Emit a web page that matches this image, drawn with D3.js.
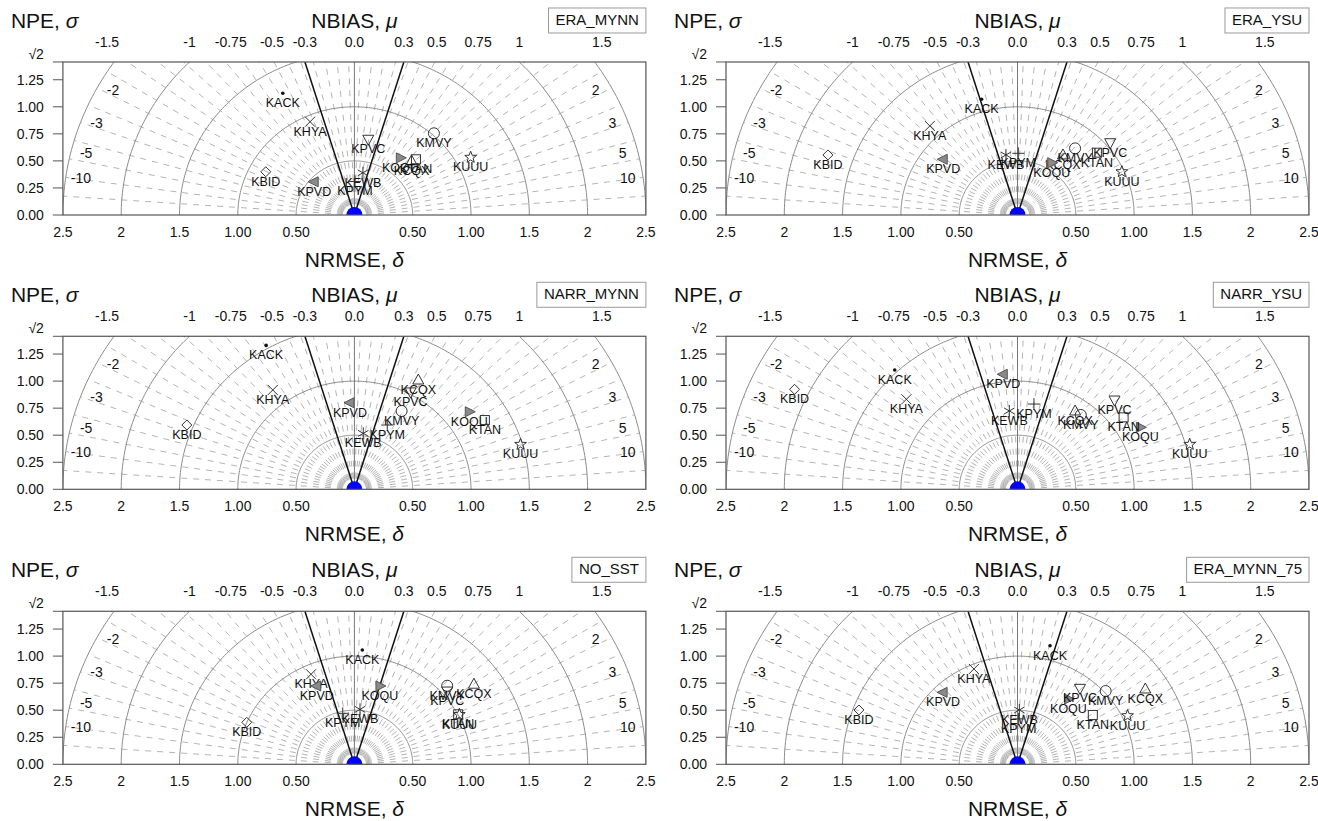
<!DOCTYPE html>
<html><head><meta charset="utf-8">
<script src="https://cdn.jsdelivr.net/npm/d3@7"></script>
<style>body{margin:0;background:#fff} text{font-family:"Liberation Sans",Arial,Helvetica,sans-serif}</style>
</head><body><svg id="c" width="1318" height="821"></svg>
<script>
// ---------- data ----------
const stations = ["KACK","KBID","KCQX","KEWB","KHYA","KMVY","KOQU","KPVC","KPVD","KPYM","KTAN","KUUU"];
const stationShapes = ["dot","diamond","triUp","asterisk","cross","circle","triRight","triDown","triLeft","plus","square","star"];
const panelNames = ["ERA_MYNN","ERA_YSU","NARR_MYNN","NARR_YSU","NO_SST","ERA_MYNN_75"];
// horizontal (signed, NRMSE units) and vertical (NPE) coordinates, station order as above
const ERA_MYNN_x    = [-0.614,-0.76, 0.49, 0.073,-0.38, 0.682, 0.394, 0.119,-0.345, 0.005, 0.528, 0.997];
const ERA_MYNN_y    = [ 1.125, 0.40, 0.50, 0.39,  0.862,0.755, 0.528, 0.70,  0.307, 0.31,  0.515, 0.533];
const ERA_YSU_x     = [-0.308,-1.626,0.39,-0.099,-0.752,0.494, 0.294, 0.795,-0.637, 0.007, 0.681, 0.895];
const ERA_YSU_y     = [ 1.07,  0.555,0.555,0.555, 0.823,0.616, 0.483, 0.668, 0.515, 0.57,  0.576, 0.40];
const NARR_MYNN_x   = [-0.757,-1.437,0.548,0.076,-0.70, 0.405, 0.985, 0.482,-0.038, 0.282, 1.119, 1.425];
const NARR_MYNN_y   = [ 1.33,  0.594,1.01, 0.517, 0.918,0.724, 0.717, 0.90,  0.80,  0.594, 0.64,  0.415];
const NARR_YSU_x    = [-1.053,-1.912,0.494,-0.07,-0.953,0.543, 1.054, 0.832,-0.122, 0.141, 0.91,  1.477];
const NARR_YSU_y    = [ 1.103, 0.924,0.724,0.724, 0.832,0.687, 0.573, 0.825, 1.063, 0.788, 0.665, 0.415];
const NO_SST_x      = [ 0.068,-0.923,1.025,0.048,-0.372,0.796, 0.219, 0.796,-0.323,-0.10,  0.89,  0.90];
const NO_SST_y      = [ 1.056, 0.388,0.74, 0.508, 0.832,0.726, 0.724, 0.677, 0.724, 0.471, 0.462, 0.46];
const ERA_MYNN_75_x = [ 0.279,-1.36, 1.096,0.016,-0.374,0.756, 0.437, 0.536,-0.638, 0.01,  0.646, 0.944];
const ERA_MYNN_75_y = [ 1.096, 0.502,0.696,0.502, 0.881,0.677, 0.603, 0.702, 0.665, 0.42,  0.456, 0.449];

const nbiasTicks  = [-1.5,-1,-0.75,-0.5,-0.3,0,0.3,0.5,0.75,1,1.5];
const nbiasLabels = ["-1.5","-1","-0.75","-0.5","-0.3","0.0","0.3","0.5","0.75","1","1.5"];
const npeTicks    = [0,0.25,0.5,0.75,1,1.25,Math.SQRT2];
const npeLabels   = ["0.00","0.25","0.50","0.75","1.00","1.25","\u221A2"];
const nrmseTicks  = [0.5,1,1.5,2,2.5];
const nrmseLabels = ["0.50","1.00","1.5","2","2.5"];
const ratioLabels = [2,3,5,10];
const arcRadii    = [0.5,1,1.5,2,2.5];
const biasLines   = [-0.3,0.3];
const rayAngles   = d3.range(4,180,4);

// ---------- drawing ----------
const svg = d3.select("#c");
const defs = svg.append("defs");
const SX = 116.6, SY = 108.2, R = 2.5, TOP = Math.SQRT2;
const colX = [354.4, 1017.5], rowBase = [215, 489.3, 764.3];
const panels = [
  {name:panelNames[0], x:ERA_MYNN_x, y:ERA_MYNN_y},
  {name:panelNames[1], x:ERA_YSU_x, y:ERA_YSU_y},
  {name:panelNames[2], x:NARR_MYNN_x, y:NARR_MYNN_y},
  {name:panelNames[3], x:NARR_YSU_x, y:NARR_YSU_y},
  {name:panelNames[4], x:NO_SST_x, y:NO_SST_y},
  {name:panelNames[5], x:ERA_MYNN_75_x, y:ERA_MYNN_75_y}
];

function drawMarker(g, shape, px, py){
  const st = "#333", sw = 1;
  switch(shape){
    case "dot": g.append("circle").attr("cx",px).attr("cy",py).attr("r",1.8).attr("fill","#111"); break;
    case "diamond": g.append("path").attr("d",`M${px},${py-5}L${px+5},${py}L${px},${py+5}L${px-5},${py}Z`).attr("fill","none").attr("stroke",st).attr("stroke-width",sw); break;
    case "triUp": g.append("path").attr("d",`M${px},${py-6}L${px+5.5},${py+4}L${px-5.5},${py+4}Z`).attr("fill","none").attr("stroke",st).attr("stroke-width",sw); break;
    case "triDown": g.append("path").attr("d",`M${px},${py+6}L${px+5.5},${py-4}L${px-5.5},${py-4}Z`).attr("fill","none").attr("stroke",st).attr("stroke-width",sw); break;
    case "triRight": g.append("path").attr("d",`M${px+6},${py}L${px-4},${py-5}L${px-4},${py+5}Z`).attr("fill","#8a8a8a").attr("stroke","#555").attr("stroke-width",sw); break;
    case "triLeft": g.append("path").attr("d",`M${px-6},${py}L${px+4},${py-5}L${px+4},${py+5}Z`).attr("fill","#8a8a8a").attr("stroke","#555").attr("stroke-width",sw); break;
    case "circle": g.append("circle").attr("cx",px).attr("cy",py).attr("r",5.5).attr("fill","none").attr("stroke",st).attr("stroke-width",sw); break;
    case "square": g.append("rect").attr("x",px-4.5).attr("y",py-4.5).attr("width",9).attr("height",9).attr("fill","none").attr("stroke",st).attr("stroke-width",sw); break;
    case "cross": g.append("path").attr("d",`M${px-5},${py-5}L${px+5},${py+5}M${px-5},${py+5}L${px+5},${py-5}`).attr("stroke",st).attr("stroke-width",sw); break;
    case "plus": g.append("path").attr("d",`M${px-6},${py}L${px+6},${py}M${px},${py-6}L${px},${py+6}`).attr("stroke",st).attr("stroke-width",sw); break;
    case "asterisk": {
      let d = "";
      [90,30,150].forEach(a=>{const t=a*Math.PI/180, dx=6*Math.cos(t), dy=6*Math.sin(t); d+=`M${px-dx},${py+dy}L${px+dx},${py-dy}`;});
      g.append("path").attr("d",d).attr("stroke",st).attr("stroke-width",sw); break;
    }
    case "star": {
      const pts=[]; for(let k=0;k<10;k++){const rr=k%2?2.6:6.2, t=-Math.PI/2+k*Math.PI/5; pts.push([px+rr*Math.cos(t), py+rr*Math.sin(t)]);}
      g.append("path").attr("d","M"+pts.map(p=>p.join(",")).join("L")+"Z").attr("fill","none").attr("stroke",st).attr("stroke-width",sw); break;
    }
  }
}

panels.forEach((p,i)=>{
  const cx = colX[i%2], base = rowBase[Math.floor(i/2)];
  const x = d3.scaleLinear().domain([-R,R]).range([cx-R*SX, cx+R*SX]);
  const y = d3.scaleLinear().domain([0,TOP]).range([base, base-TOP*SY]);
  const g = svg.append("g");

  defs.append("clipPath").attr("id","rc"+i).append("rect")
    .attr("x",x(-R)).attr("y",y(TOP)).attr("width",x(R)-x(-R)).attr("height",y(0)-y(TOP));
  defs.append("clipPath").attr("id","el"+i).append("ellipse")
    .attr("cx",x(0)).attr("cy",y(0)).attr("rx",x(R)-x(0)).attr("ry",y(0)-y(R));

  const gr = g.append("g").attr("clip-path",`url(#rc${i})`);
  const ge = gr.append("g").attr("clip-path",`url(#el${i})`);

  // dashed rays
  rayAngles.forEach(a=>{
    const t = a*Math.PI/180, r0 = 0.1;
    ge.append("line").attr("x1",x(r0*Math.cos(t))).attr("y1",y(r0*Math.sin(t)))
      .attr("x2",x(R*1.05*Math.cos(t))).attr("y2",y(R*1.05*Math.sin(t)))
      .attr("stroke","#b4b4b4").attr("stroke-width",1).attr("stroke-dasharray","6,6");
  });
  // arcs
  const line = d3.line();
  arcRadii.forEach(r=>{
    const pts = d3.range(0,181,1).map(a=>{const t=a*Math.PI/180; return [x(r*Math.cos(t)), y(r*Math.sin(t))];});
    gr.append("path").attr("d",line(pts)).attr("fill","none").attr("stroke","#8c8c8c").attr("stroke-width",1);
  });
  // center vertical line
  gr.append("line").attr("x1",x(0)).attr("y1",y(0)).attr("x2",x(0)).attr("y2",y(TOP))
    .attr("stroke","#777").attr("stroke-width",1);
  // bias lines
  biasLines.forEach(b=>{
    gr.append("line").attr("x1",x(0)).attr("y1",y(0)).attr("x2",x(b*TOP)).attr("y2",y(TOP))
      .attr("stroke","#111").attr("stroke-width",1.5);
  });
  // blue reference dot
  gr.append("circle").attr("cx",x(0)).attr("cy",y(0)).attr("r",8).attr("fill","#0000ff");

  // frame
  g.append("rect").attr("x",x(-R)).attr("y",y(TOP)).attr("width",x(R)-x(-R)).attr("height",y(0)-y(TOP))
    .attr("fill","none").attr("stroke","#555").attr("stroke-width",1.2);

  // y ticks
  npeTicks.forEach((v,k)=>{
    g.append("line").attr("x1",x(-R)-10).attr("x2",x(-R)).attr("y1",y(v)).attr("y2",y(v)).attr("stroke","#555");
    g.append("text").attr("x",x(-R)-19).attr("y",y(v) + (k===npeTicks.length-1 ? -8 : 0)).attr("dy","0.36em")
      .attr("text-anchor","end").attr("font-size",14).attr("fill","#111").text(npeLabels[k]);
  });
  // bottom NRMSE labels
  nrmseTicks.forEach((v,k)=>{
    [-1,1].forEach(s=>{
      g.append("text").attr("x",x(s*v)).attr("y",y(0)+22).attr("text-anchor","middle")
        .attr("font-size",14).attr("fill","#111").text(nrmseLabels[k]);
    });
  });
  // top NBIAS labels
  nbiasTicks.forEach((v,k)=>{
    g.append("text").attr("x",x(v*TOP)).attr("y",y(TOP)-15).attr("text-anchor","middle")
      .attr("font-size",14).attr("fill","#111").text(nbiasLabels[k]);
  });
  // ratio labels near outer arc
  ratioLabels.forEach(k=>{
    const t = Math.atan(1/k) + 2.6*Math.PI/180, rr = 2.37;
    [-1,1].forEach(s=>{
      g.append("text").attr("x",x(s*rr*Math.cos(t))).attr("y",y(rr*Math.sin(t))).attr("dy","0.36em")
        .attr("text-anchor","middle").attr("font-size",14).attr("fill","#111").text((s<0?"-":"")+k);
    });
  });

  // titles
  const t1 = g.append("text").attr("x",x(-R)-52).attr("y",y(TOP)-34).attr("font-size",21).attr("fill","#111");
  t1.append("tspan").text("NPE, ");
  t1.append("tspan").attr("font-style","italic").text("\u03C3");
  const t2 = g.append("text").attr("x",x(0)).attr("y",y(TOP)-34).attr("text-anchor","middle").attr("font-size",21).attr("fill","#111");
  t2.append("tspan").text("NBIAS, ");
  t2.append("tspan").attr("font-style","italic").text("\u03BC");
  const t3 = g.append("text").attr("x",x(0)).attr("y",y(0)+52).attr("text-anchor","middle").attr("font-size",21).attr("fill","#111");
  t3.append("tspan").text("NRMSE, ");
  t3.append("tspan").attr("font-style","italic").text("\u03B4");

  // name box
  const bt = g.append("text").attr("x",x(R)-7).attr("y",y(TOP)-37).attr("text-anchor","end")
    .attr("font-size",15).attr("fill","#111").text(p.name);
  const bb = bt.node().getBBox();
  g.insert("rect","text").attr("x",bb.x-7).attr("y",y(TOP)-54).attr("width",bb.width+14).attr("height",25)
    .attr("fill","#fff").attr("stroke","#999").attr("stroke-width",1);

  // stations
  const gm = g.append("g");
  stations.forEach((s,j)=>{
    const px = x(p.x[j]), py = y(p.y[j]);
    drawMarker(gm, stationShapes[j], px, py);
    gm.append("text").attr("x",px).attr("y",py+14).attr("text-anchor","middle")
      .attr("font-size",12.5).attr("fill","#111").text(s);
  });
});
</script></body></html>
